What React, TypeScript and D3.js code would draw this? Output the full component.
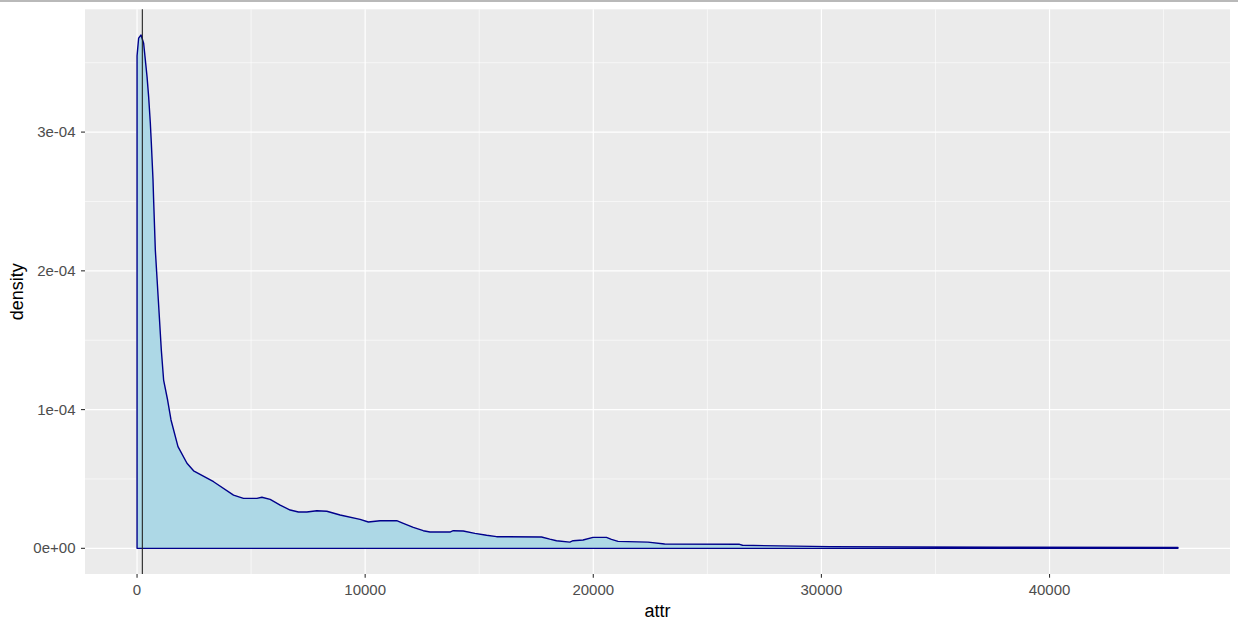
import React from "react";
import * as d3 from "d3";

const densityX = [0, 70, 175, 289, 363, 438, 508, 582, 626, 700, 727, 801, 933, 1064, 1165, 1340, 1489, 1795, 2189, 2478, 3354, 4229, 4667, 5254, 5473, 5836, 6274, 6712, 7075, 7443, 7881, 8319, 8901, 9777, 10140, 10652, 11383, 11672, 12110, 12547, 12841, 13716, 13861, 14299, 14811, 15323, 15761, 17731, 18094, 18387, 18970, 19114, 19552, 19990, 20577, 20796, 21085, 22398, 23129, 26412, 26544, 30353, 37800, 45630];
const densityY = [3.549e-4, 3.677e-4, 3.70e-4, 3.64e-4, 3.52e-4, 3.40e-4, 3.256e-4, 3.066e-4, 2.922e-4, 2.655e-4, 2.51e-4, 2.151e-4, 1.79e-4, 1.43e-4, 1.213e-4, 1.069e-4, 0.925e-4, 0.733e-4, 0.613e-4, 0.559e-4, 0.480e-4, 0.384e-4, 0.360e-4, 0.360e-4, 0.368e-4, 0.353e-4, 0.312e-4, 0.276e-4, 0.262e-4, 0.262e-4, 0.271e-4, 0.267e-4, 0.240e-4, 0.209e-4, 0.190e-4, 0.199e-4, 0.199e-4, 0.180e-4, 0.151e-4, 0.127e-4, 0.1175e-4, 0.1175e-4, 0.127e-4, 0.125e-4, 0.108e-4, 0.094e-4, 0.084e-4, 0.0815e-4, 0.066e-4, 0.055e-4, 0.045e-4, 0.055e-4, 0.060e-4, 0.079e-4, 0.079e-4, 0.065e-4, 0.050e-4, 0.045e-4, 0.031e-4, 0.029e-4, 0.022e-4, 0.012e-4, 0.008e-4, 0.006e-4];

const vlineX = 232;
const xTicks = [0, 10000, 20000, 30000, 40000];
const xTickLabels = ["0", "10000", "20000", "30000", "40000"];
const xMinor = [5000, 15000, 25000, 35000, 45000];
const yTicks = [0, 1e-4, 2e-4, 3e-4];
const yTickLabels = ["0e+00", "1e-04", "2e-04", "3e-04"];
const yMinor = [0.5e-4, 1.5e-4, 2.5e-4, 3.5e-4];

const W = 1238, H = 627;
const L = 85, R = 1230, T = 9.3, B = 574;

export default function App() {
  const xMin = d3.min(densityX)!, xMax = d3.max(densityX)!;
  const xr = xMax - xMin;
  const x = d3.scaleLinear().domain([xMin - 0.05 * xr, xMax + 0.05 * xr]).range([L, R]);
  const yMax = d3.max(densityY)!;
  const y = d3.scaleLinear().domain([-0.05 * yMax, 1.05 * yMax]).range([B, T]);
  const pts: [number, number][] = densityX.map((v, i) => [v, densityY[i]]);
  const area = d3.area<[number, number]>().x(d => x(d[0])).y0(y(0)).y1(d => y(d[1]));
  const poly = [[densityX[0], 0] as [number, number], ...pts, [densityX[densityX.length - 1], 0] as [number, number]];
  const outline = d3.line<[number, number]>().x(d => x(d[0])).y(d => y(d[1]));
  const font = "'Liberation Sans', Arial, sans-serif";
  return (
    <svg width={W} height={H} style={{ position: "fixed", left: 0, top: 0, background: "#fff" }}>
      <rect x={0} y={0} width={W} height={2} fill="#b9b9b9" />
      <rect x={L} y={T} width={R - L} height={B - T} fill="#EBEBEB" />
      {xMinor.map(v => <line key={"xm" + v} x1={x(v)} x2={x(v)} y1={T} y2={B} stroke="#fff" strokeWidth={0.6} />)}
      {yMinor.map(v => <line key={"ym" + v} x1={L} x2={R} y1={y(v)} y2={y(v)} stroke="#fff" strokeWidth={0.6} />)}
      {xTicks.map(v => <line key={"xg" + v} x1={x(v)} x2={x(v)} y1={T} y2={B} stroke="#fff" strokeWidth={1.2} />)}
      {yTicks.map(v => <line key={"yg" + v} x1={L} x2={R} y1={y(v)} y2={y(v)} stroke="#fff" strokeWidth={1.2} />)}
      <path d={area(pts) || ""} fill="#ADD8E6" />
      <path d={(outline(poly) || "") + "Z"} fill="none" stroke="#00008B" strokeWidth={1.4} strokeLinejoin="round" />
      <line x1={x(vlineX)} x2={x(vlineX)} y1={T} y2={B} stroke="#222" strokeWidth={1.1} />
      {xTicks.map((v, i) => (
        <g key={"xt" + v}>
          <line x1={x(v)} x2={x(v)} y1={B} y2={B + 3.7} stroke="#333" strokeWidth={1.1} />
          <text x={x(v)} y={595} textAnchor="middle" fontFamily={font} fontSize={15} fill="#4D4D4D">{xTickLabels[i]}</text>
        </g>
      ))}
      {yTicks.map((v, i) => (
        <g key={"yt" + v}>
          <line x1={L - 4} x2={L} y1={y(v)} y2={y(v)} stroke="#333" strokeWidth={1.1} />
          <text x={L - 9.5} y={y(v) + 5} textAnchor="end" fontFamily={font} fontSize={15} fill="#4D4D4D">{yTickLabels[i]}</text>
        </g>
      ))}
      <text x={(L + R) / 2} y={616.5} textAnchor="middle" fontFamily={font} fontSize={18} fill="#000">attr</text>
      <text transform={`translate(23, ${(T + B) / 2}) rotate(-90)`} textAnchor="middle" fontFamily={font} fontSize={18} fill="#000">density</text>
    </svg>
  );
}
